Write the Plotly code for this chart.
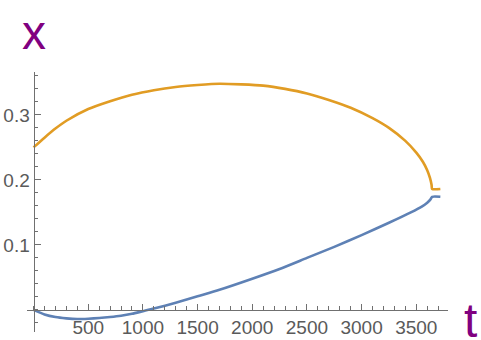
import plotly.graph_objects as go

# Series (t, x)
t_orange = [0, 100, 200, 300, 500, 700, 900, 1100, 1300, 1500, 1700, 1900, 2100,
            2300, 2500, 2700, 2900, 3100, 3250, 3400, 3500, 3560, 3600, 3625,
            3640, 3645, 3720]
x_orange = [0.250, 0.265, 0.279, 0.291, 0.309, 0.321, 0.331, 0.338, 0.343, 0.346,
            0.348, 0.347, 0.345, 0.340, 0.333, 0.323, 0.311, 0.295, 0.280, 0.260,
            0.242, 0.228, 0.215, 0.203, 0.192, 0.186, 0.186]

t_blue = [0, 100, 200, 300, 400, 500, 600, 700, 800, 900, 1000, 1100, 1300, 1500,
          1700, 2000, 2250, 2500, 2750, 3000, 3250, 3450, 3550, 3600, 3630, 3645, 3720]
x_blue = [0.0, -0.007, -0.011, -0.013, -0.014, -0.0135, -0.0125, -0.011, -0.009,
          -0.006, -0.002, 0.002, 0.011, 0.021, 0.031, 0.048, 0.063, 0.080, 0.097,
          0.115, 0.134, 0.150, 0.159, 0.165, 0.170, 0.174, 0.174]

x_ticks = [500, 1000, 1500, 2000, 2500, 3000, 3500]
y_ticks = [0.1, 0.2, 0.3]

X_RANGE = [-60, 3790]
Y_RANGE = [-0.034, 0.366]

AXIS = "#707070"
LABEL = "#5a5a5a"
PURPLE = "#800080"
FONT = "Liberation Sans, Arial"

fig = go.Figure()
fig.add_trace(go.Scatter(x=t_blue, y=x_blue, mode="lines",
                         line=dict(color="#5E81B5", width=2.6, shape="spline",
                                   smoothing=0.6)))
fig.add_trace(go.Scatter(x=t_orange, y=x_orange, mode="lines",
                         line=dict(color="#E19C24", width=2.6, shape="spline",
                                   smoothing=0.6)))

# axes cross at the origin, like Mathematica
x_pos = (0 - Y_RANGE[0]) / (Y_RANGE[1] - Y_RANGE[0])
y_pos = (0 - X_RANGE[0]) / (X_RANGE[1] - X_RANGE[0])

fig.update_xaxes(
    range=X_RANGE, anchor="free", position=x_pos, automargin=False,
    showgrid=False, zeroline=False, showline=True, linecolor=AXIS, linewidth=1,
    tickmode="array", tickvals=x_ticks, ticks="inside", ticklen=6, tickcolor=AXIS,
    tickfont=dict(family=FONT, size=19, color=LABEL),
    minor=dict(dtick=100, tick0=0, ticks="inside", ticklen=3.5, tickcolor=AXIS,
               showgrid=False),
)
fig.update_yaxes(
    range=Y_RANGE, anchor="free", position=y_pos, automargin=False,
    showgrid=False, zeroline=False, showline=True, linecolor=AXIS, linewidth=1,
    tickmode="array", tickvals=y_ticks, ticks="inside", ticklen=6, tickcolor=AXIS,
    tickfont=dict(family=FONT, size=19, color=LABEL),
    minor=dict(dtick=0.02, tick0=0, ticks="inside", ticklen=3.5, tickcolor=AXIS,
               showgrid=False),
)

fig.add_annotation(text="x", xref="x", x=0, yref="paper", y=1.152,
                   showarrow=False, xanchor="center", yanchor="middle",
                   font=dict(family=FONT, size=48, color=PURPLE))
fig.add_annotation(text="t", xref="paper", x=1.054, yref="y", y=-0.017,
                   showarrow=False, xanchor="center", yanchor="middle",
                   font=dict(family=FONT, size=48, color=PURPLE))

fig.update_layout(
    width=481, height=340,
    margin=dict(l=27, r=33, t=72, b=8, autoexpand=False),
    paper_bgcolor="white", plot_bgcolor="white",
    showlegend=False,
)

# drop the browser's default 8px body margin so the figure fills the window
fig.write_html("out.html", config={"displayModeBar": False},
               post_script="document.body.style.margin='0';")
